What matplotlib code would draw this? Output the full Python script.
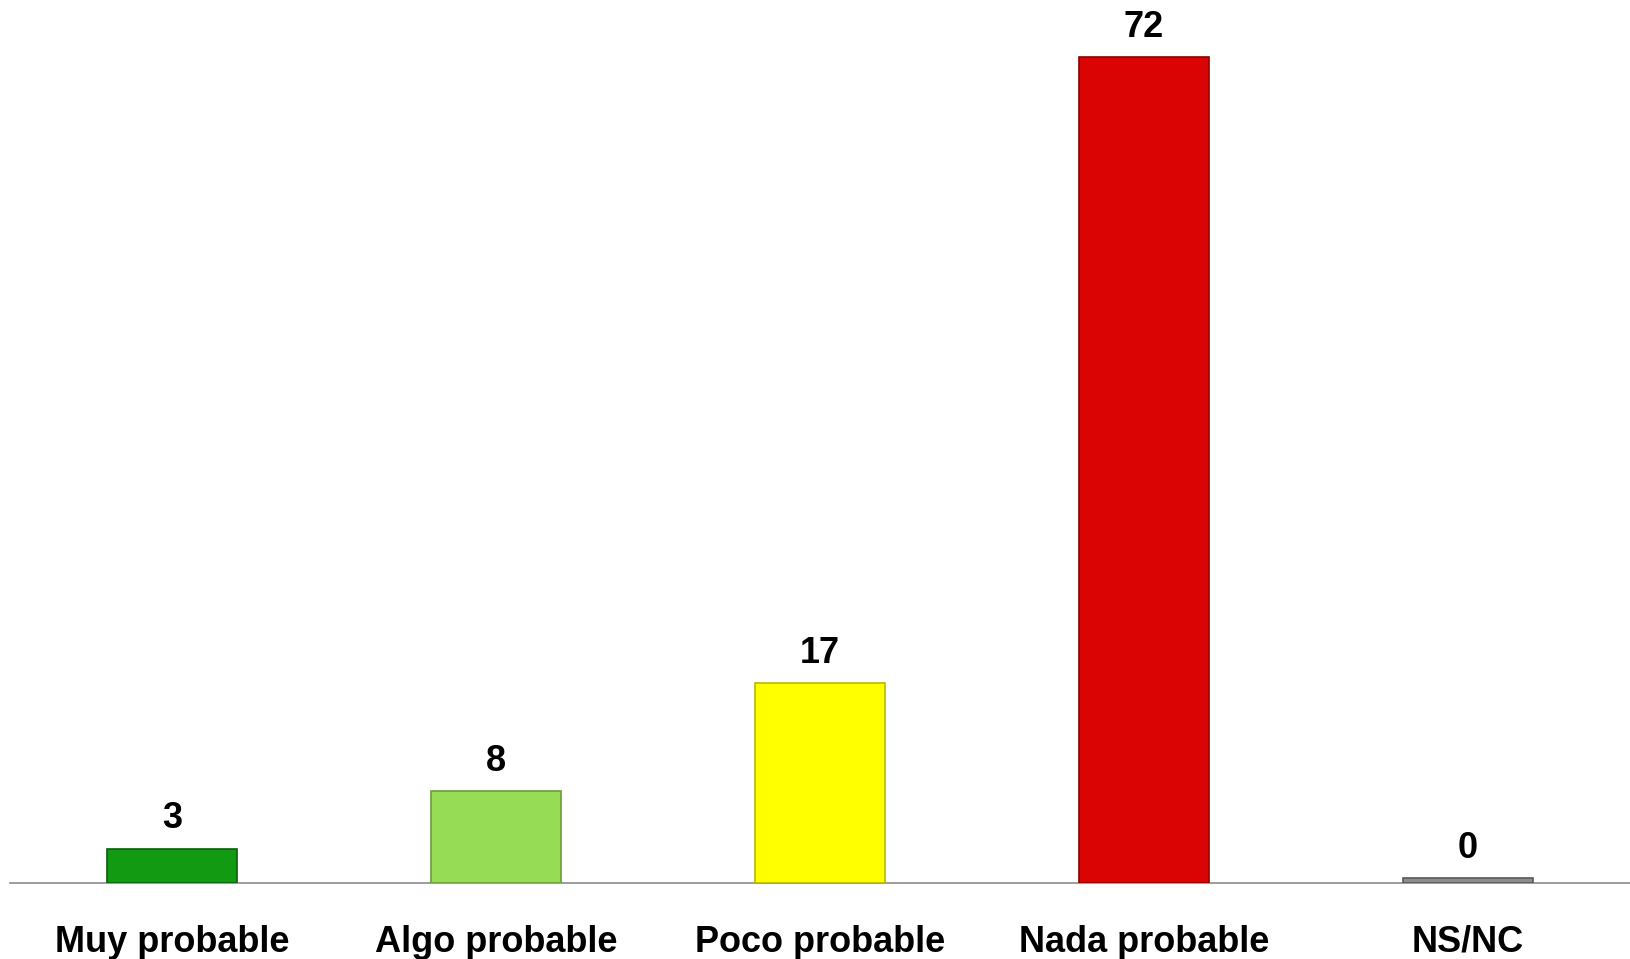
import matplotlib

matplotlib.use("Agg")
import matplotlib.pyplot as plt  # noqa: E402

categories = ["Muy probable", "Algo probable", "Poco probable", "Nada probable", "NS/NC"]
values = [3, 8, 17.4, 72, 0.4]
labels = ["3", "8", "17", "72", "0"]
colors = ["#139A13", "#96DC55", "#FFFF00", "#DA0404", "#8C8C8C"]
edges = ["#0B5E0B", "#6A9E3A", "#B8B800", "#8E0000", "#5A5A5A"]

plt.rcParams["font.family"] = ["Liberation Sans", "DejaVu Sans"]

fig = plt.figure(figsize=(16.30, 9.59), dpi=100)
ax = fig.add_axes([10 / 1630, 76 / 959, 1620 / 1630, 883 / 959])

x = range(len(categories))
ax.bar(x, values, width=0.4, color=colors, edgecolor=edges, linewidth=1.2, zorder=3)

for xi, v, lab in zip(x, values, labels):
    ax.annotate(lab, (xi, v), xytext=(0, 9), textcoords="offset points",
                ha="center", va="bottom", fontsize=26, fontweight="bold")

ax.set_xlim(-0.5, 4.5)
ax.set_ylim(0, 77)
ax.set_yticks([])
ax.set_xticks(list(x))
ax.set_xticklabels(categories, fontsize=26, fontweight="bold")
ax.tick_params(axis="x", length=0, pad=30)
for side in ["top", "right", "left"]:
    ax.spines[side].set_visible(False)
ax.spines["bottom"].set_color("#8C8C8C")
ax.spines["bottom"].set_linewidth(1.2)

fig.savefig("out.png", dpi=100)
